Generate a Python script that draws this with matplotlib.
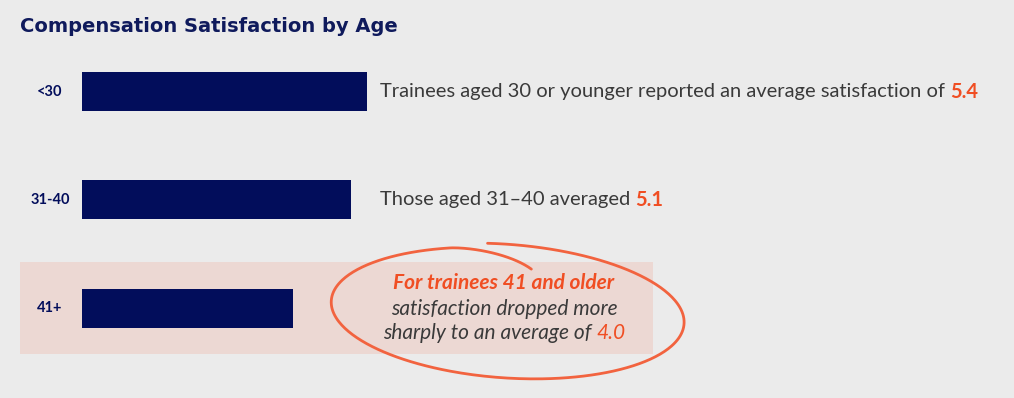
import matplotlib.pyplot as plt
import numpy as np
from matplotlib.patches import Rectangle

# data
ages = ['<30', '31-40', '41+']
satisfaction = [5.4, 5.1, 4.0]
notes = ['Trainees aged 30 or younger reported an average satisfaction of ',
         'Those aged 31\u201340 averaged ']
note_values = ['5.4', '5.1', '4.0']

navy = '#020d5b'
orange = '#f04e23'
grey = '#3a3a3a'
bg = '#ebebeb'

fig = plt.figure(figsize=(10.14, 3.98), dpi=100, facecolor=bg)
ax = fig.add_axes([0, 0, 1, 1])
ax.set_facecolor(bg)

# axis scale: 0 at x=82px, 52.8px per unit; rows 108.3px apart
px = 52.8
ax.set_xlim(-82 / px, (1014 - 82) / px)
ax.set_ylim((398 - 91.5) / 108.3, -91.5 / 108.3)
ax.axis('off')

def to_x(p):
    return (p - 82) / px

def to_y(p):
    return (p - 91.5) / 108.3

y = np.arange(len(ages))

# highlight band behind the last row
ax.add_patch(Rectangle((to_x(20), to_y(262)), to_x(653) - to_x(20), to_y(354) - to_y(262),
                       facecolor='#ecd8d3', edgecolor='none', zorder=0))

ax.barh(y, satisfaction, height=0.36, color=navy, zorder=2)

for i, lab in enumerate(ages):
    ax.text(to_x(50), i, lab, ha='center', va='center', fontsize=10.5,
            fontweight='bold', color=navy, family='Lato')

# notes for first two rows
for i in range(2):
    t = ax.text(to_x(380), i, notes[i], ha='left', va='center', fontsize=14.5,
                color=grey, family='Lato')
    ax.annotate(note_values[i], xy=(1, 0.5), xycoords=t, ha='left', va='center',
                fontsize=14.5, fontweight='bold', color=orange, family='Lato')

# circled note for 41+
cx = to_x(504)
fs = 15
ax.text(cx, to_y(283), 'For trainees 41 and older', ha='center', va='center',
        fontsize=fs, fontweight='bold', style='italic', color=orange, family='Lato')
ax.text(cx, to_y(309), 'satisfaction dropped more', ha='center', va='center',
        fontsize=fs, style='italic', color=grey, family='Lato')
# invisible full line to centre the two-colour line
full = ax.text(cx, to_y(333), 'sharply to an average of ' + note_values[2], ha='center',
               va='center', fontsize=fs, style='italic', alpha=0, family='Lato')
t3 = ax.annotate('sharply to an average of ', xy=(0, 0.5), xycoords=full, ha='left',
                 va='center', fontsize=fs, style='italic', color=grey, family='Lato')
ax.annotate(note_values[2], xy=(1, 0.5), xycoords=t3, ha='left', va='center',
            fontsize=fs, style='italic', color=orange, family='Lato')

# hand-drawn loop around the note (pixel space, y down)
th = np.radians(np.linspace(-97, 281, 400))
s = 1.06 - 0.06 * (th - th[0]) / (np.radians(250) - th[0])
hook = np.clip((th - np.radians(250)) / np.radians(31), 0, 1)
s = np.where(th > np.radians(250), 1.0 - 0.29 * hook ** 1.5, s)
rot = np.radians(4)
ex = 172 * s * np.cos(th)
ey = 64 * s * np.sin(th)
lx = 505 + ex * np.cos(rot) - ey * np.sin(rot)
ly = 312 + ex * np.sin(rot) + ey * np.cos(rot)
ax.plot(to_x(lx), to_y(ly), color='#f2633f', lw=2, solid_capstyle='round', zorder=3)

fig.text(20 / 1014, 1 - 27 / 398, 'Compensation Satisfaction by Age', ha='left', va='center',
         fontsize=14, fontweight='bold', color='#0f1a5c', family='DejaVu Sans')

fig.savefig('out.png', dpi=100, facecolor=bg)
